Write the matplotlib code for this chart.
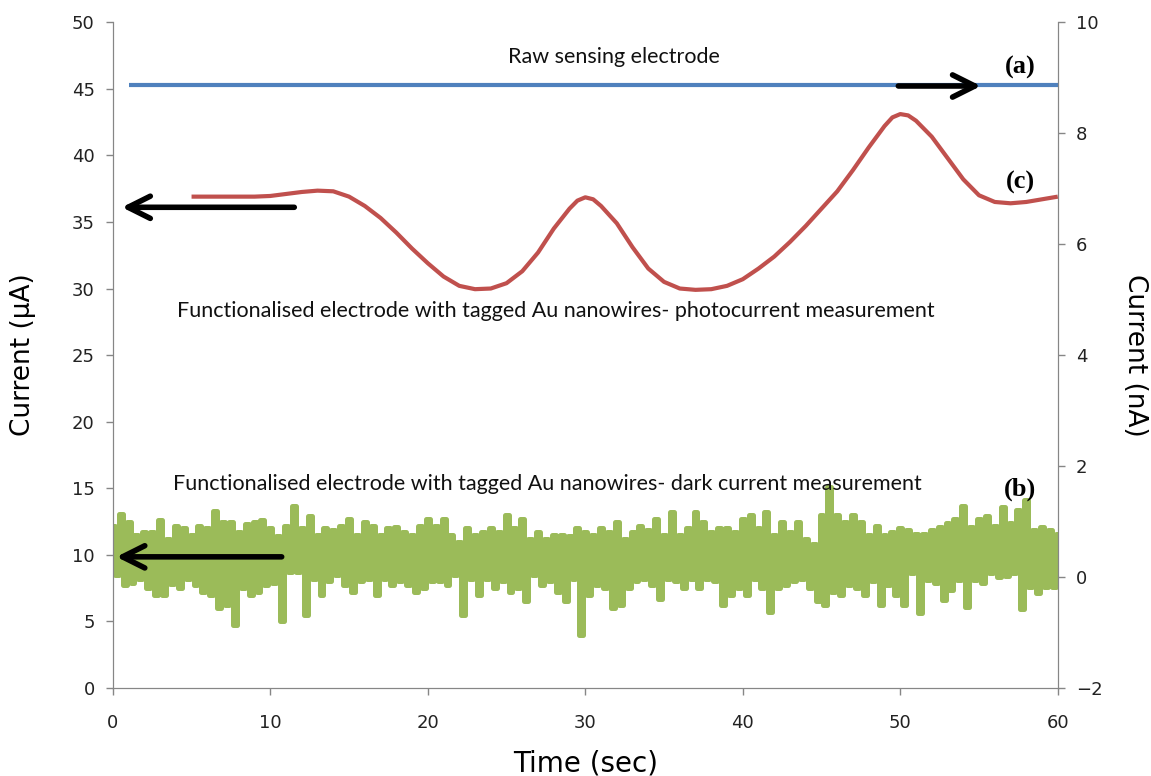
import numpy as np
import matplotlib
matplotlib.use('Agg')
import matplotlib.pyplot as plt

# (c) photocurrent, left axis (uA)
photo_time = [5, 6, 7, 8, 9, 10, 11, 12, 13, 14, 15, 16, 17, 18, 19, 20,
              21, 22, 23, 24, 25, 26, 27, 28, 29, 29.5, 30, 30.5, 31, 32, 33,
              34, 35, 36, 37, 38, 39, 40, 41, 42, 43, 44, 45, 46, 47, 48, 49,
              49.5, 50, 50.5, 51, 52, 53, 54, 55, 56, 57, 58, 59, 60]
photo_current = [36.9, 36.9, 36.9, 36.9, 36.9, 36.95, 37.1, 37.25, 37.35, 37.3,
                 36.9, 36.2, 35.3, 34.2, 33.0, 31.9, 30.9, 30.2, 29.95, 30.0,
                 30.4, 31.3, 32.7, 34.5, 36.0, 36.6, 36.85, 36.7, 36.2, 34.9,
                 33.1, 31.5, 30.5, 30.0, 29.9, 29.95, 30.2, 30.7, 31.5, 32.4,
                 33.5, 34.7, 36.0, 37.3, 38.9, 40.6, 42.2, 42.85, 43.1, 43.0,
                 42.6, 41.4, 39.8, 38.2, 37.0, 36.5, 36.4, 36.5, 36.7, 36.9]

# (b) dark current, left axis (uA): peak / trough every 0.5 s from 0 to 60
dark_hi = [12.2, 13.1, 12.5, 11.5, 11.7, 11.7, 12.6, 11.2, 12.2, 12.0,
           11.5, 12.2, 12.0, 13.3, 12.5, 12.5, 11.7, 12.3, 12.5, 12.6,
           12.0, 11.4, 12.2, 13.7, 12.0, 12.9, 11.5, 12.0, 11.9, 12.2,
           12.7, 11.5, 12.5, 12.2, 11.5, 12.0, 12.1, 11.7, 11.5, 12.2,
           12.7, 12.2, 12.7, 11.5, 11.0, 12.0, 11.5, 11.7, 12.0, 11.7,
           13.0, 12.0, 12.7, 11.2, 11.7, 11.2, 11.5, 11.5, 11.4, 12.0,
           11.7, 11.5, 12.0, 11.7, 12.5, 11.2, 11.7, 12.2, 11.9, 12.7,
           11.5, 13.2, 11.5, 12.0, 13.2, 12.5, 11.7, 12.0, 12.0, 11.7,
           12.7, 13.0, 12.0, 13.2, 11.5, 12.5, 11.7, 12.5, 11.2, 10.8,
           13.0, 15.1, 13.0, 12.5, 13.0, 12.5, 11.5, 12.2, 11.5, 11.7,
           12.0, 11.9, 11.6, 11.6, 11.9, 12.1, 12.4, 12.7, 13.7, 12.1,
           12.7, 12.9, 12.2, 13.6, 12.4, 13.4, 14.1, 11.9, 12.1, 11.9,
           11.6]
dark_lo = [8.5, 7.7, 7.9, 8.2, 7.5, 7.0, 7.0, 7.8, 7.5, 8.2,
           7.7, 7.2, 7.0, 6.0, 6.2, 4.7, 7.5, 7.0, 7.2, 7.7,
           7.9, 5.0, 8.7, 8.7, 5.5, 8.2, 7.0, 8.0, 8.5, 7.7,
           7.2, 8.0, 8.2, 7.0, 8.2, 7.7, 8.0, 7.7, 7.2, 7.5,
           8.0, 8.0, 7.7, 8.5, 5.5, 8.2, 7.0, 8.2, 7.5, 8.0,
           7.2, 7.5, 6.5, 8.5, 7.7, 8.0, 7.2, 6.5, 8.2, 4.0,
           7.0, 7.7, 7.5, 6.0, 6.2, 7.5, 8.0, 8.2, 7.7, 6.7,
           8.2, 8.0, 7.5, 8.2, 7.5, 8.2, 8.0, 6.2, 7.0, 7.5,
           7.0, 8.2, 7.5, 5.7, 7.5, 7.7, 8.0, 8.2, 7.5, 6.5,
           6.2, 7.2, 7.0, 7.7, 7.5, 7.0, 8.0, 6.2, 7.7, 7.0,
           6.2, 8.6, 5.6, 8.1, 7.9, 6.6, 7.35, 8.1, 6.1, 8.1,
           7.9, 8.6, 8.3, 8.4, 8.6, 5.9, 7.6, 7.1, 7.6, 7.6,
           7.6]

# (a) raw sensing electrode, right axis (nA)
raw_time = [1, 60]
raw_current = [8.87, 8.87]

green = '#9BBB59'
red = '#C0504D'
blue = '#4F81BD'
grey = '#868686'
tick_font = ['Liberation Sans Narrow', 'DejaVu Sans']

fig = plt.figure(figsize=(11.51, 7.76), dpi=100)
ax = fig.add_axes([0.098, 0.1134, 0.821, 0.858])
ax2 = ax.twinx()

# dark current as alternating peaks/troughs
dark_t = np.linspace(0, 60, len(dark_hi))
t_all = np.column_stack([dark_t, dark_t + 0.25]).ravel()
v_all = np.column_stack([dark_hi, dark_lo]).ravel()
ax.plot(t_all, v_all, color=green, lw=3.6, drawstyle='steps-mid', zorder=2)

ax.plot(photo_time, photo_current, color=red, lw=3, solid_capstyle='butt',
        solid_joinstyle='round', zorder=3)
ax2.plot(raw_time, raw_current, color=blue, lw=3, solid_capstyle='butt')

ax.set_xlim(0, 60)
ax.set_ylim(0, 50)
ax2.set_ylim(-2, 10)
ax.set_xticks(range(0, 61, 10))
ax.set_yticks(range(0, 51, 5))
ax2.set_yticks(range(-2, 11, 2))

for a in (ax, ax2):
    for s in a.spines.values():
        s.set_color(grey)
    a.spines['top'].set_visible(False)
    a.tick_params(colors=grey, labelcolor='#222222', length=5, width=1)
    for lab in a.get_xticklabels() + a.get_yticklabels():
        lab.set_family(tick_font)
        lab.set_fontsize(13)
ax.tick_params(axis='x', pad=14)
ax.tick_params(axis='y', pad=8)
ax2.tick_params(axis='y', pad=8)

ax.set_xlabel('Time (sec)', fontsize=20, family=tick_font, labelpad=12)
ax.set_ylabel('Current (\u03bcA)', fontsize=19, family=tick_font, labelpad=26)
ax2.set_ylabel('Current (nA)', fontsize=19, family=tick_font, rotation=-90,
               va='bottom', labelpad=14)

# arrows
arrow = dict(arrowstyle='->', lw=4, color='black', mutation_scale=40)
ax.annotate('', xy=(0.4, 36.1), xytext=(11.7, 36.1), arrowprops=arrow, zorder=5)
ax.annotate('', xy=(0.05, 9.85), xytext=(10.9, 9.85), arrowprops=arrow, zorder=5)
ax2.annotate('', xy=(55.3, 8.85), xytext=(49.7, 8.85), arrowprops=arrow)

txt = dict(fontsize=15.5, family='Lato', ha='center', va='center', color='#111111')
ax.text(31.8, 47.4, 'Raw sensing electrode', **txt)
ax.text(28.1, 28.3, 'Functionalised electrode with tagged Au nanowires- photocurrent measurement', **txt)
ax.text(27.6, 15.3, 'Functionalised electrode with tagged Au nanowires- dark current measurement', **txt)

lab = dict(fontsize=19, family='Liberation Serif', weight='bold', ha='center', va='center')
ax.text(57.6, 46.6, '(a)', **lab)
ax.text(57.6, 38.0, '(c)', **lab)
ax.text(57.6, 14.9, '(b)', **lab)

fig.savefig('out.png', dpi=100)
